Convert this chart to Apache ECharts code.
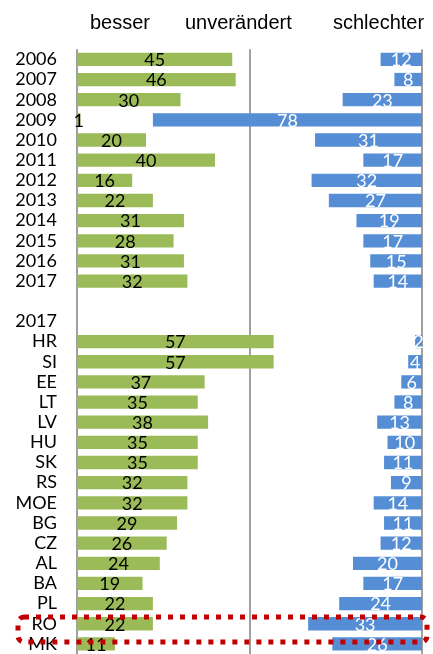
<!DOCTYPE html>
<html>
<head>
<meta charset="utf-8">
<script src="https://cdn.jsdelivr.net/npm/echarts@6/dist/echarts.min.js"></script>
<style>
html,body{margin:0;padding:0;background:#fff}
#chart{width:433px;height:654px}
</style>
</head>
<body>
<div id="chart"></div>
<script>
// rows top to bottom; "" is the empty spacer row, second "2017" is a heading row
const cats=["2006","2007","2008","2009","2010","2011","2012","2013","2014","2015","2016","2017",
  "","2017","HR","SI","EE","LT","LV","HU","SK","RS","MOE","BG","CZ","AL","BA","PL","RO","MK"];
const besser=[45,46,30,1,20,40,16,22,31,28,31,32,
  null,null,57,57,37,35,38,35,35,32,32,29,26,24,19,22,22,11];
const schlechter=[12,8,23,78,31,17,32,27,19,17,15,14,
  null,null,2,4,6,8,13,10,11,9,14,11,12,20,17,24,33,26];
const headers=["besser","unverändert","schlechter"];

const rest=besser.map((b,i)=>b==null?null:100-b-schlechter[i]);
const lab="Lato";

const chart=echarts.init(document.getElementById("chart"));
chart.setOption({
  animation:false,
  grid:{left:77,right:11,top:49.3,height:606},
  xAxis:{
    type:"value",min:0,max:100,interval:50,
    axisLabel:{show:false},axisTick:{show:false},axisLine:{show:false},
    splitLine:{show:true,lineStyle:{color:"#808080",width:1.5}}
  },
  yAxis:{
    type:"category",inverse:true,data:cats,
    axisLine:{show:false},axisTick:{show:false},
    axisLabel:{interval:0,color:"#000",fontFamily:lab,fontSize:18,margin:20,align:"right"}
  },
  series:[
    {name:headers[0],type:"bar",stack:"a",data:besser,barWidth:13.3,
      itemStyle:{color:"#9BBB59"},
      label:{show:true,position:"inside",color:"#000",fontFamily:lab,fontSize:18,offset:[0,1]}},
    {name:headers[1],type:"bar",stack:"a",data:rest,barWidth:13.3,
      itemStyle:{color:"rgba(0,0,0,0)"},silent:true},
    {name:headers[2],type:"bar",stack:"a",data:schlechter,barWidth:13.3,
      itemStyle:{color:"#558ED5"},
      label:{show:true,position:"inside",color:"#fff",fontFamily:lab,fontSize:18,offset:[0,1]}}
  ],
  graphic:[
    {type:"text",left:90,top:13,style:{text:headers[0],font:"20px 'Liberation Sans'",fill:"#000"}},
    {type:"text",left:185,top:13,style:{text:headers[1],font:"20px 'Liberation Sans'",fill:"#000"}},
    {type:"text",left:333,top:13,style:{text:headers[2],font:"20px 'Liberation Sans'",fill:"#000"}},
    {type:"rect",shape:{x:18,y:617,width:409,height:25,r:6},z:100,
      style:{fill:null,stroke:"#C00000",lineWidth:5,lineDash:[5,7]}}
  ]
});
</script>
</body>
</html>
